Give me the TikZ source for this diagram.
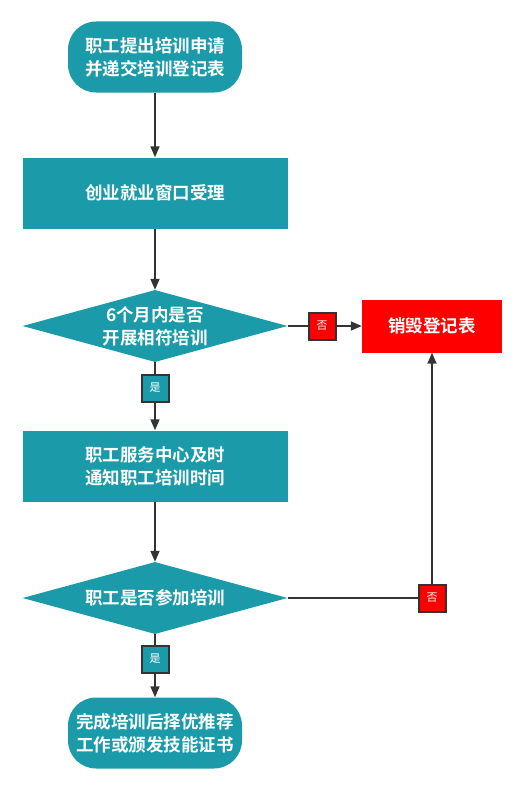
\documentclass[tikz,border=0pt]{standalone}
\usepackage{fontspec}
\newfontfamily\cjk{Noto Sans CJK SC}[BoldFont={Noto Sans CJK SC Bold}]
\usetikzlibrary{shapes.geometric,arrows.meta}
\definecolor{teal1}{HTML}{1B9BA9}
\definecolor{line1}{HTML}{333333}
\tikzset{
  box/.style={fill=teal1, draw=none, minimum width=265pt, minimum height=71pt, inner sep=0pt},
  term/.style={fill=teal1, draw=none, rounded corners=28pt, minimum width=174pt, minimum height=71pt, inner sep=0pt},
  dia/.style={diamond, fill=teal1, draw=none, minimum width=265pt, minimum height=72pt, inner sep=0pt},
  redbox/.style={fill=red, draw=none, minimum width=140pt, minimum height=53pt, inner sep=0pt},
  txt/.style={text=white, font=\cjk\bfseries\fontsize{17.5pt}{23pt}\selectfont, align=center},
  lab/.style={draw=line1, line width=2pt, minimum width=27pt, minimum height=27pt, inner sep=0pt, text=white, font=\cjk\fontsize{11pt}{12pt}\selectfont},
  yes/.style={lab, fill=teal1},
  no/.style={lab, fill=red},
  conn/.style={draw=line1, line width=1.5pt},
  arr/.style={conn, -{Triangle[length=11pt,width=9pt]}}
}
\begin{document}
\begin{tikzpicture}[x=1pt,y=-1pt]
\useasboundingbox (0,0) rectangle (524,792);
\node[term] (s) at (155,57) {};
\node[txt] at (s) {职工提出培训申请\\并递交培训登记表};
\node[box] (b1) at (155,193) {};
\node[txt] at (b1) {创业就业窗口受理};
\node[dia] (d1) at (155,326) {};
\node[txt] at (d1) {6个月内是否\\开展相符培训};
\node[box] (b2) at (155,466) {};
\node[txt] at (b2) {职工服务中心及时\\通知职工培训时间};
\node[dia] (d2) at (155,598) {};
\node[txt] at (d2) {职工是否参加培训};
\node[term] (e) at (155,733) {};
\node[txt] at (e) {完成培训后择优推荐\\工作或颁发技能证书};
\node[redbox] (r) at (432,326) {};
\node[txt] at (r) {销毁登记表};

\draw[arr] (s.south) -- (b1.north);
\draw[arr] (b1.south) -- (d1.north);
\draw[arr] (d1.south) -- (b2.north);
\draw[arr] (b2.south) -- (d2.north);
\draw[arr] (d2.south) -- (e.north);
\draw[arr] (d1.east) -- (r.west);
\coordinate (c) at (432,598);
\draw[conn] (d2.east) -- (c);
\draw[arr] (c) -- (r.south);

\node[yes] (y1) at (155,388) {是};
\node[yes] (y2) at (155,659) {是};
\node[no] (n1) at (322,326) {否};
\node[no] (n2) at (432,598) {否};
\end{tikzpicture}
\end{document}
